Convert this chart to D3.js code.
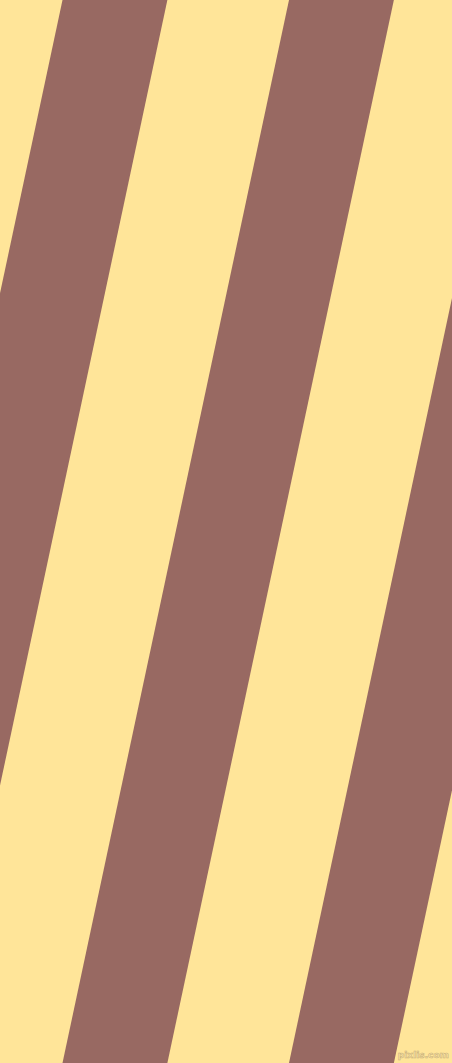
<!DOCTYPE html>
<html>
<head>
<meta charset="utf-8">
<script src="https://cdn.jsdelivr.net/npm/d3@7"></script>
<style>
  html, body { margin: 0; padding: 0; background: #FFE599; }
  svg { display: block; }
</style>
</head>
<body>
<div id="stripes_block"></div>
<script>

// Stripe bands, counted from the left edge (band -1 enters from the left)
var bands = [ -1, 0, 1, 2 ]

// Share of each repeat that is brown
var brownShare = [ 0.463 ]

// Repeats the pattern slides left from top to bottom
var drift = [ 0, 1 ]

var colours = [ "#FFE599", "#986962" ]

var width = 452

var height = 1063

// Band number -> left edge along the top row
var xScale = d3.scaleLinear()
	.domain([0, 1])
	.range([62.5, 289])

// Row (0 top, 1 bottom) -> how many repeats the pattern has drifted
var yScale = d3.scaleLinear()
	.domain([0, 1])
	.range([0, height])

var period = xScale(1) - xScale(0)

var svg = d3.select("#stripes_block")
	.append("svg")
	.attr("width", width)
	.attr("height", height)

svg.append("rect")
	.attr("x", 0)
	.attr("y", 0)
	.attr("width", width)
	.attr("height", height)
	.attr("fill", colours[0])

var line = d3.line()
	.x(function(d) { return d[0]; })
	.y(function(d) { return d[1]; })

function band(i) {

	var topLeft = xScale(i - drift[0])
	var botLeft = xScale(i - drift[1])
	var w = period * brownShare[0]

	return [
		[ topLeft, yScale(0) ],
		[ topLeft + w, yScale(0) ],
		[ botLeft + w, yScale(1) ],
		[ botLeft, yScale(1) ]
	]

}

svg.selectAll(".band")
	.data(bands)
	.enter()
	.append("path")
	.attr("class", "band")
	.attr("d", function(d) { return line(band(d)) + "Z"; })
	.attr("fill", colours[1])

// Little site mark in the corner
svg.append("text")
	.attr("x", width - 3)
	.attr("y", height - 5)
	.attr("text-anchor", "end")
	.attr("font-family", "DejaVu Sans, sans-serif")
	.attr("font-size", 9)
	.attr("font-weight", "bold")
	.attr("fill", "#FFE9A8")
	.attr("stroke", "#C9B07A")
	.attr("stroke-width", 0.6)
	.text("pixlis.com")

</script>
</body>
</html>
